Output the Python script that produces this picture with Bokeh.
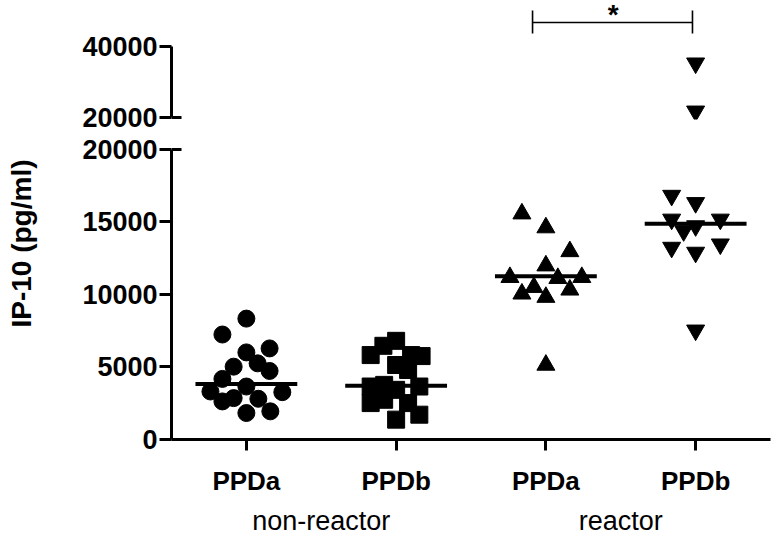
import math
from bokeh.plotting import figure
from bokeh.layouts import column, row
from bokeh.models import ColumnDataSource, FixedTicker, LinearAxis, Range1d, Label
from bokeh.core.properties import value
from bokeh.embed import file_html
from bokeh.resources import INLINE

# ---------------- data ----------------
tick_labels = ["PPDa", "PPDb", "PPDa", "PPDb"]
group_labels = ["non-reactor", "reactor"]
y_label = "IP-10 (pg/ml)"

# non-reactor PPDa (circles)
nr_ppda = [8336, 7240, 6007, 6281, 5023, 5251, 4726, 4178, 3653, 3311, 3265, 2626, 2854, 2808, 1826, 1941]
nr_ppda_dx = [0.0, -0.16, 0.0, 0.155, -0.085, 0.075, 0.155, -0.16, 0.0, -0.24, 0.24, -0.16, -0.085, 0.08, 0.0, 0.16]
# non-reactor PPDb (squares)
nr_ppdb = [6804, 6461, 5822, 5822, 5753, 5137, 4795, 3653, 3767, 3425, 3653, 2511, 2740, 2511, 1712, 1370]
nr_ppdb_dx = [0.0, -0.085, -0.17, 0.1, 0.17, 0.0, 0.08, -0.17, -0.08, 0.0, 0.155, -0.17, -0.08, 0.08, 0.155, 0.0]
# reactor PPDa (triangles)
r_ppda = [15571, 14612, 12968, 11986, 11187, 11119, 11187, 10502, 10046, 10320, 9817, 5137]
r_ppda_dx = [-0.16, 0.0, 0.16, 0.0, -0.24, 0.08, 0.24, -0.08, -0.16, 0.16, 0.0, 0.0]
# reactor PPDb (inverted triangles)
r_ppdb = [16826, 16324, 15183, 14726, 14384, 15183, 13242, 12900, 13470, 7534, 35194, 21750]
r_ppdb_dx = [-0.16, 0.0, -0.16, 0.0, -0.08, 0.165, -0.16, 0.0, 0.165, 0.0, 0.0, 0.0]

medians = [3836, 3699, 11256, 14884]

series = [
    (nr_ppda, nr_ppda_dx, "circle", 17),
    (nr_ppdb, nr_ppdb_dx, "square", 17),
    (r_ppda, r_ppda_dx, "triangle", 18),
    (r_ppdb, r_ppdb_dx, "inverted_triangle", 18),
]

BREAK = 20000
FONT = "Liberation Sans"
LAB_W = 40

xr = Range1d(0.5, 4.5)

# ---------------- y-axis title strip ----------------
lab = figure(width=LAB_W, height=538, x_range=Range1d(0, LAB_W), y_range=Range1d(0, 538),
             output_backend="svg", toolbar_location=None, x_axis_location=None,
             y_axis_location=None, min_border=0)
lab.outline_line_color = None
lab.xgrid.visible = False
lab.ygrid.visible = False
lab.text(x=[21], y=[295], text=[y_label], angle=math.pi / 2,
         text_font=value(FONT), text_font_style="bold", text_font_size="28px",
         text_align="center", text_baseline="middle", text_color="black")

# ---------------- upper (broken) panel ----------------
top = figure(width=774 - LAB_W, height=133, x_range=xr, y_range=Range1d(19441, 52727),
             output_backend="svg", toolbar_location=None, x_axis_location=None,
             min_border_left=171 - LAB_W, min_border_right=4, min_border_top=0, min_border_bottom=14)
# ---------------- lower panel ----------------
bot = figure(width=774 - LAB_W, height=405, x_range=xr, y_range=Range1d(0, 20137),
             output_backend="svg", toolbar_location=None,
             min_border_left=171 - LAB_W, min_border_right=4, min_border_top=14, min_border_bottom=98)

for p in (top, bot):
    p.outline_line_color = None
    p.xgrid.visible = False
    p.ygrid.visible = False
    p.background_fill_color = "white"
    p.border_fill_color = "white"
    yax = p.yaxis[0]
    yax.axis_line_width = 3
    yax.major_tick_line_width = 3
    yax.major_tick_out = 12
    yax.major_tick_in = 0
    yax.minor_tick_line_color = None
    yax.major_label_text_font = FONT
    yax.major_label_text_font_style = "bold"
    yax.major_label_text_font_size = "27px"
    yax.major_label_text_color = "black"
    yax.major_label_standoff = 2

top.yaxis[0].ticker = FixedTicker(ticks=[20000, 40000])
top.yaxis[0].bounds = (20000, 40000)
bot.yaxis[0].ticker = FixedTicker(ticks=[0, 5000, 10000, 15000, 20000])
bot.yaxis[0].bounds = (0, 20000)

xax = bot.xaxis[0]
xax.ticker = FixedTicker(ticks=[1, 2, 3, 4])
xax.major_label_overrides = {i + 1: t for i, t in enumerate(tick_labels)}
xax.axis_line_width = 3
xax.major_tick_line_width = 3
xax.major_tick_out = 11
xax.major_tick_in = 0
xax.minor_tick_line_color = None
xax.major_label_text_font = FONT
xax.major_label_text_font_style = "bold"
xax.major_label_text_font_size = "26px"
xax.major_label_text_color = "black"
xax.major_label_standoff = 15

gax = LinearAxis(ticker=FixedTicker(ticks=[1.5, 3.5]),
                 major_label_overrides={1.5: group_labels[0], 3.5: group_labels[1]})
gax.axis_line_color = None
gax.major_tick_line_color = None
gax.minor_tick_line_color = None
gax.major_label_text_font = FONT
gax.major_label_text_font_size = "27px"
gax.major_label_text_color = "black"
gax.major_label_standoff = 1
bot.add_layout(gax, "below")

# break ticks extending inward
inward = 10 / 149.75
for p in (top, bot):
    p.segment(x0=[0.5], y0=[BREAK], x1=[0.5 + inward], y1=[BREAK], line_color="black", line_width=3)

# points
for gi, (vals, dxs, marker, size) in enumerate(series):
    pos = gi + 1
    lo = ColumnDataSource(dict(x=[pos + d for v, d in zip(vals, dxs) if v <= BREAK],
                               y=[v for v in vals if v <= BREAK]))
    hi = ColumnDataSource(dict(x=[pos + d for v, d in zip(vals, dxs) if v > BREAK],
                               y=[v for v in vals if v > BREAK]))
    bot.scatter("x", "y", source=lo, marker=marker, size=size,
                fill_color="black", line_color="black")
    top.scatter("x", "y", source=hi, marker=marker, size=size,
                fill_color="black", line_color="black")

# medians
mpos = [i + 1 for i in range(len(medians))]
bot.segment(x0=[m - 0.34 for m in mpos], x1=[m + 0.34 for m in mpos],
            y0=medians, y1=medians, line_color="black", line_width=4)

# significance bracket between reactor PPDa and PPDb
bx0, bx1 = 2.911, 3.979
by, by_lo, by_hi = 46574, 43497, 49930
top.segment(x0=[bx0, bx0, bx1], y0=[by, by_lo, by_lo], x1=[bx1, bx0, bx1], y1=[by, by_hi, by_hi],
            line_color="black", line_width=1.6)
top.add_layout(Label(x=3.45, y=48700, text="*", text_font=FONT, text_font_style="bold",
                     text_font_size="28px", text_align="center", text_baseline="middle",
                     text_color="black"))

layout = row(lab, column(top, bot, spacing=0), spacing=0)
open("out.html", "w").write(file_html(layout, INLINE))
